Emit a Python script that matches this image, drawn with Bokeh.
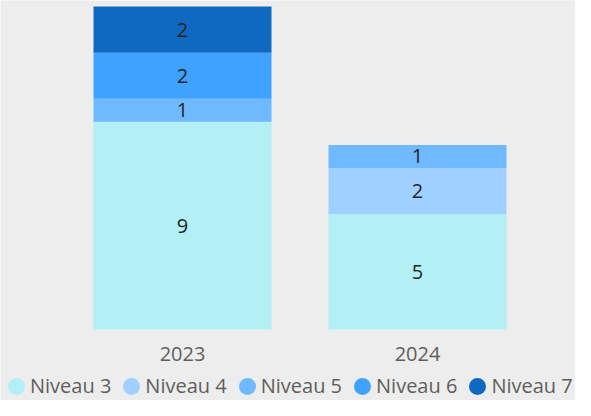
from bokeh.plotting import figure
from bokeh.models import ColumnDataSource, Range1d, LabelSet, Legend, LegendItem
from bokeh.core.properties import value
from bokeh.embed import file_html
from bokeh.resources import INLINE

years = ["2023", "2024"]
levels = ["Niveau 3", "Niveau 4", "Niveau 5", "Niveau 6", "Niveau 7"]
niveau3 = [9, 5]
niveau4 = [0, 2]
niveau5 = [1, 1]
niveau6 = [2, 0]
niveau7 = [2, 0]
colors = ["#B3F0F5", "#A0D0FF", "#6EB9FF", "#40A2FF", "#0F69C1"]

series = [niveau3, niveau4, niveau5, niveau6, niveau7]
keys = ["n3", "n4", "n5", "n6", "n7"]
xs = list(range(len(years)))
data = {"x": xs, "year": years}
for k, s in zip(keys, series):
    data[k] = s
source = ColumnDataSource(data)

BG = "#EDEDED"
FONT = "Open Sans"
W, H = 575, 400

# layout (pixels)
base_px = 329      # baseline of bars
top_px = 6         # top of the highest stack
ymax = max(sum(s[i] for s in series) for i in range(len(years)))
ppu = (base_px - top_px) / ymax
x_ppu = 235.0
x_first = 182.0

p = figure(width=W, height=H,
           x_range=Range1d(-x_first / x_ppu, -x_first / x_ppu + W / x_ppu),
           y_range=Range1d(-(H - base_px) / ppu, ymax + top_px / ppu),
           output_backend="svg", toolbar_location=None,
           x_axis_location=None, y_axis_location=None,
           min_border=0, min_border_left=0, min_border_right=0,
           min_border_top=0, min_border_bottom=0,
           background_fill_color=BG, border_fill_color=BG, outline_line_color=None)
p.xgrid.visible = False
p.ygrid.visible = False

p.vbar_stack(keys, x="x", width=178 / x_ppu, color=colors, line_color=None, source=source)

# data labels
lx, ly, lt = [], [], []
for i in xs:
    base = 0
    for s in series:
        v = s[i]
        if v > 0:
            lx.append(i)
            ly.append(base + v / 2)
            lt.append(str(v))
        base += v
lsrc = ColumnDataSource(dict(x=lx, y=ly, t=lt))
p.add_layout(LabelSet(x="x", y="y", text="t", source=lsrc, text_align="center",
                      text_baseline="middle", text_font=value(FONT), text_font_size="20px",
                      text_color="#252423"))

# category labels (x axis)
p.text(x=xs, y=[-24 / ppu] * len(xs), text=years, text_align="center",
       text_baseline="middle", text_font=value(FONT), text_font_size="20px",
       text_color="#605E5C")

# legend with circle markers
nan = float("nan")
items = []
for lab, c in zip(levels, colors):
    r = p.scatter(x=[nan], y=[nan], marker="circle", size=8, fill_color=c, line_color=c,
                  line_width=9)
    items.append(LegendItem(label=lab, renderers=[r]))
legend = Legend(items=items, orientation="horizontal", location=(6, 1),
                glyph_width=20, glyph_height=20, label_standoff=4, spacing=10,
                padding=0, margin=0, background_fill_alpha=0, border_line_color=None,
                label_text_font=FONT, label_text_font_size="20px", label_text_color="#605E5C",
                label_height=20)
p.add_layout(legend, "center")

open("out.html", "w").write(file_html(p, INLINE))
